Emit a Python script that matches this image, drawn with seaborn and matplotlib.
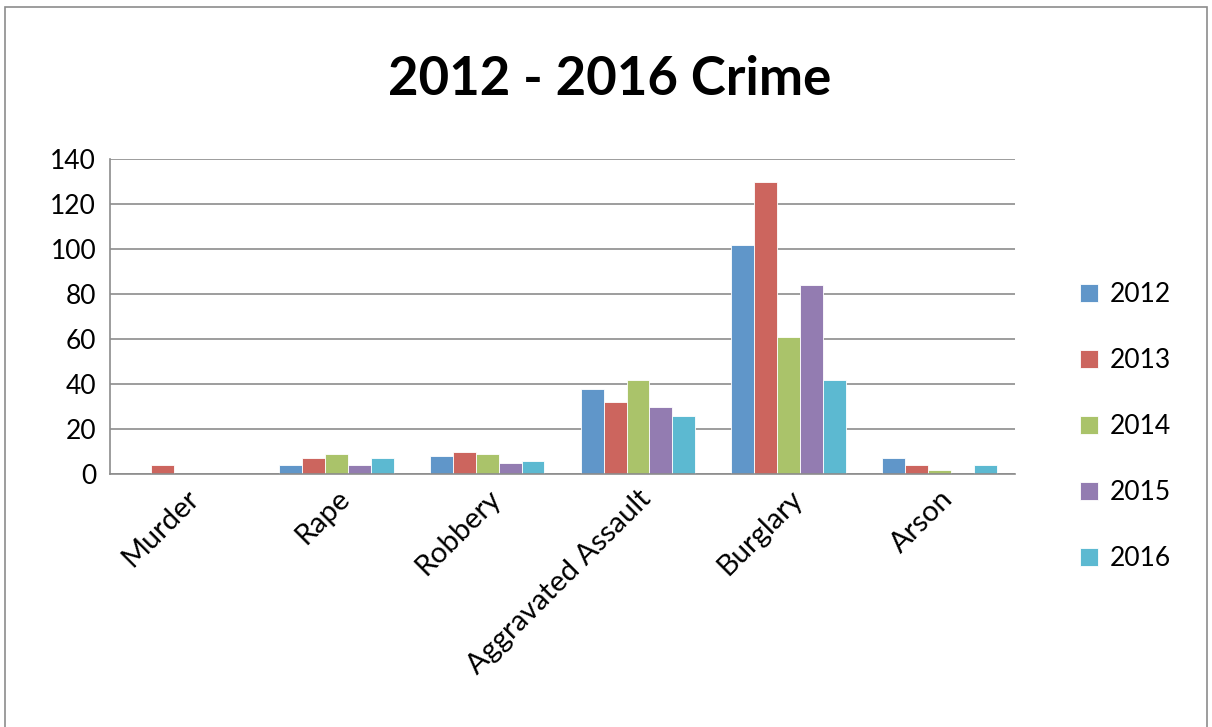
import numpy as np
import pandas as pd
import matplotlib.pyplot as plt
import seaborn as sns
from matplotlib.patches import Rectangle

categories = ['Murder', 'Rape', 'Robbery', 'Aggravated Assault', 'Burglary', 'Arson']
years = ['2012', '2013', '2014', '2015', '2016']
v2012 = [0, 4, 8, 38, 102, 7]
v2013 = [4, 7, 10, 32, 130, 4]
v2014 = [0, 9, 9, 42, 61, 2]
v2015 = [0, 4, 5, 30, 84, 0]
v2016 = [0, 7, 6, 26, 42, 4]
colors = ['#6096C9', '#CC655E', '#AAC36A', '#937CB1', '#5CB9D1']

rows = []
for yr, vals in zip(years, [v2012, v2013, v2014, v2015, v2016]):
    for cat, v in zip(categories, vals):
        rows.append({'Crime': cat, 'Year': yr, 'Count': v})
df = pd.DataFrame(rows)

sns.set_style('white')
plt.rcParams['font.family'] = ['Lato', 'DejaVu Sans']
plt.rcParams['text.color'] = 'black'
plt.rcParams['xtick.color'] = 'black'
plt.rcParams['ytick.color'] = 'black'

fig = plt.figure(figsize=(12.12, 7.27), dpi=100)
ax = fig.add_axes([0.0908, 0.348, 0.7467, 0.433])

sns.barplot(data=df, x='Crime', y='Count', hue='Year', order=categories,
            hue_order=years, palette=colors, width=0.76, saturation=1,
            edgecolor='white', linewidth=0.6, ax=ax)

ax.set_ylim(0, 140)
ax.set_yticks(np.arange(0, 141, 20))
ax.set_xlim(-0.5, len(categories) - 0.5)
ax.yaxis.grid(True, color='#8c8c8c', linewidth=1.2)
ax.set_axisbelow(True)
for s in ['top', 'right']:
    ax.spines[s].set_visible(False)
for s in ['left', 'bottom']:
    ax.spines[s].set_color('#8c8c8c')
    ax.spines[s].set_linewidth(1.2)
ax.set_xlabel('')
ax.set_ylabel('')
ax.tick_params(axis='y', labelsize=19, length=0, pad=10)
ax.tick_params(axis='x', labelsize=21, length=0, pad=8)
plt.setp(ax.get_xticklabels(), rotation=45, ha='right', rotation_mode='anchor')

ax.legend(loc='center left', bbox_to_anchor=(1.045, 0.15), frameon=False,
          fontsize=19, handlelength=0.7, handleheight=0.7,
          labelspacing=1.55, handletextpad=0.45)

fig.text(0.503, 0.89, '2012 - 2016 Crime', ha='center', va='center',
         fontsize=38, fontweight='bold')

fig.patches.append(Rectangle((0.004, -0.01), 0.992, 1.0, transform=fig.transFigure,
                             fill=False, edgecolor='#8c8c8c', linewidth=1.2))

fig.savefig('out.png', dpi=100)
